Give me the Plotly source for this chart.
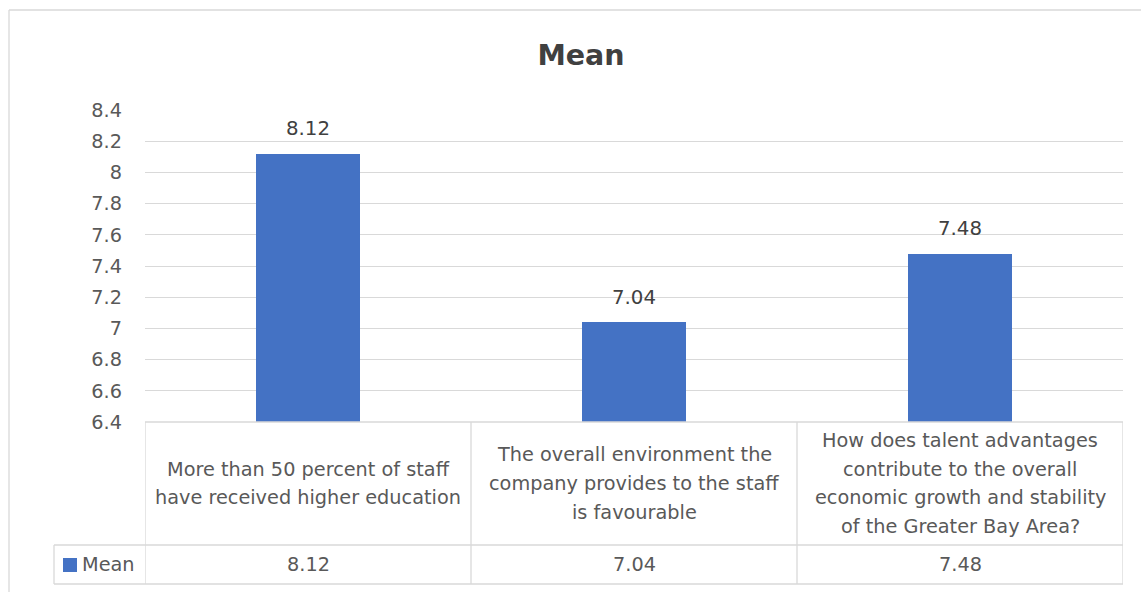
import plotly.graph_objects as go

# Survey statements (category labels, line breaks as drawn in the data table)
categories = [
    "More than 50 percent of staff<br>have received higher education",
    "The overall environment the<br>company provides to the staff<br>is favourable",
    "How does talent advantages<br>contribute to the overall<br>economic growth and stability<br>of the Greater Bay Area?",
]
series_name = "Mean"
mean_values = [8.12, 7.04, 7.48]
value_labels = ["8.12", "7.04", "7.48"]

y_tick_vals = [6.4, 6.6, 6.8, 7.0, 7.2, 7.4, 7.6, 7.8, 8.0, 8.2, 8.4]
y_tick_text = ["6.4", "6.6", "6.8", "7", "7.2", "7.4", "7.6", "7.8", "8", "8.2", "8.4"]

# Page geometry (pixels)
FIG_W, FIG_H = 1141, 592
M_L, M_R, M_T, M_B = 145, 18, 110, 170
PLOT_W = FIG_W - M_L - M_R
PLOT_H = FIG_H - M_T - M_B

HEADER_H = 123   # category row of the data table
VALUE_H = 39     # value row of the data table
LEGEND_LEFT = 54

FONT = "DejaVu Sans"
TEXT = "#595959"
GRID = "#d9d9d9"
BAR = "#4472C4"
FS = 19.3
LINE_GAP = 28.7


def py(px_below_top):
    """Pixel row measured from the top of the page -> paper y."""
    return 1 - (px_below_top - M_T) / PLOT_H


def px_x(px):
    """Pixel column -> paper x."""
    return (px - M_L) / PLOT_W


x_idx = list(range(len(categories)))

fig = go.Figure()
fig.add_trace(go.Bar(
    x=x_idx,
    y=mean_values,
    name=series_name,
    marker=dict(color=BAR, line=dict(width=0)),
    width=0.316,
    showlegend=False,
))

table_top = M_T + PLOT_H
row_split = table_top + HEADER_H
table_bottom = row_split + VALUE_H

shapes = []
line = dict(color=GRID, width=1.3)

# Outer chart border (top and left edges)
shapes.append(dict(type="line", xref="paper", yref="paper",
                   x0=px_x(9), x1=px_x(FIG_W + 5), y0=py(10), y1=py(10), line=line))
shapes.append(dict(type="line", xref="paper", yref="paper",
                   x0=px_x(9), x1=px_x(9), y0=py(10), y1=py(FIG_H + 5), line=line))

# Data table horizontal rules
shapes.append(dict(type="line", xref="x", yref="paper",
                   x0=-0.5, x1=len(categories) - 0.5, y0=py(table_top), y1=py(table_top), line=line))
for yy in (row_split, table_bottom):
    shapes.append(dict(type="line", xref="paper", yref="paper",
                       x0=px_x(LEGEND_LEFT), x1=1, y0=py(yy), y1=py(yy), line=line))
# Data table vertical rules
for i in range(len(categories) + 1):
    shapes.append(dict(type="line", xref="x", yref="paper",
                       x0=i - 0.5, x1=i - 0.5, y0=py(table_top), y1=py(table_bottom), line=line))
shapes.append(dict(type="line", xref="paper", yref="paper",
                   x0=px_x(LEGEND_LEFT), x1=px_x(LEGEND_LEFT),
                   y0=py(row_split), y1=py(table_bottom), line=line))
# Legend key
shapes.append(dict(type="rect", xref="paper", yref="paper",
                   x0=px_x(63), x1=px_x(77), y0=py(572), y1=py(558),
                   fillcolor=BAR, line=dict(width=0)))

annotations = []
# Value labels above bars
for i, (v, t) in enumerate(zip(mean_values, value_labels)):
    annotations.append(dict(x=i, y=v, xref="x", yref="y", text=t, showarrow=False,
                            yanchor="middle", yshift=25,
                            font=dict(family=FONT, size=FS + 0.5, color="#404040")))
# Category labels in the table header row
header_mid = table_top + HEADER_H / 2
for i, cat in enumerate(categories):
    parts = cat.split("<br>")
    n = len(parts)
    for k, p in enumerate(parts):
        yy = header_mid + (k - (n - 1) / 2) * LINE_GAP
        annotations.append(dict(x=i, y=py(yy), xref="x", yref="paper", text=p,
                                showarrow=False, yanchor="middle",
                                font=dict(family=FONT, size=FS, color=TEXT)))
# Value row
value_mid = row_split + VALUE_H / 2
for i, t in enumerate(value_labels):
    annotations.append(dict(x=i, y=py(value_mid), xref="x", yref="paper", text=t,
                            showarrow=False, yanchor="middle",
                            font=dict(family=FONT, size=FS, color=TEXT)))
annotations.append(dict(x=px_x(80), y=py(value_mid), xref="paper", yref="paper",
                        text=series_name, showarrow=False, xanchor="left", yanchor="middle",
                        font=dict(family=FONT, size=FS, color=TEXT)))

fig.update_layout(
    width=FIG_W, height=FIG_H,
    margin=dict(l=M_L, r=M_R, t=M_T, b=M_B, autoexpand=False),
    paper_bgcolor="white", plot_bgcolor="white",
    title=dict(text="<b>Mean</b>", xref="container", x=581 / FIG_W, xanchor="center",
               yref="container", y=1 - 55 / FIG_H, yanchor="middle",
               font=dict(family=FONT, size=28.5, color="#404040")),
    shapes=shapes,
    annotations=annotations,
    bargap=0,
    xaxis=dict(range=[-0.5, len(categories) - 0.5], showticklabels=False,
               showgrid=False, zeroline=False, showline=False, fixedrange=True),
    yaxis=dict(range=[6.4, 8.4], tickvals=y_tick_vals, ticktext=y_tick_text,
               showgrid=True, gridcolor=GRID, gridwidth=1.3, zeroline=False,
               showline=False, ticks="", ticklabelstandoff=22,
               tickfont=dict(family=FONT, size=FS, color=TEXT)),
)

fig.write_html("out.html")
